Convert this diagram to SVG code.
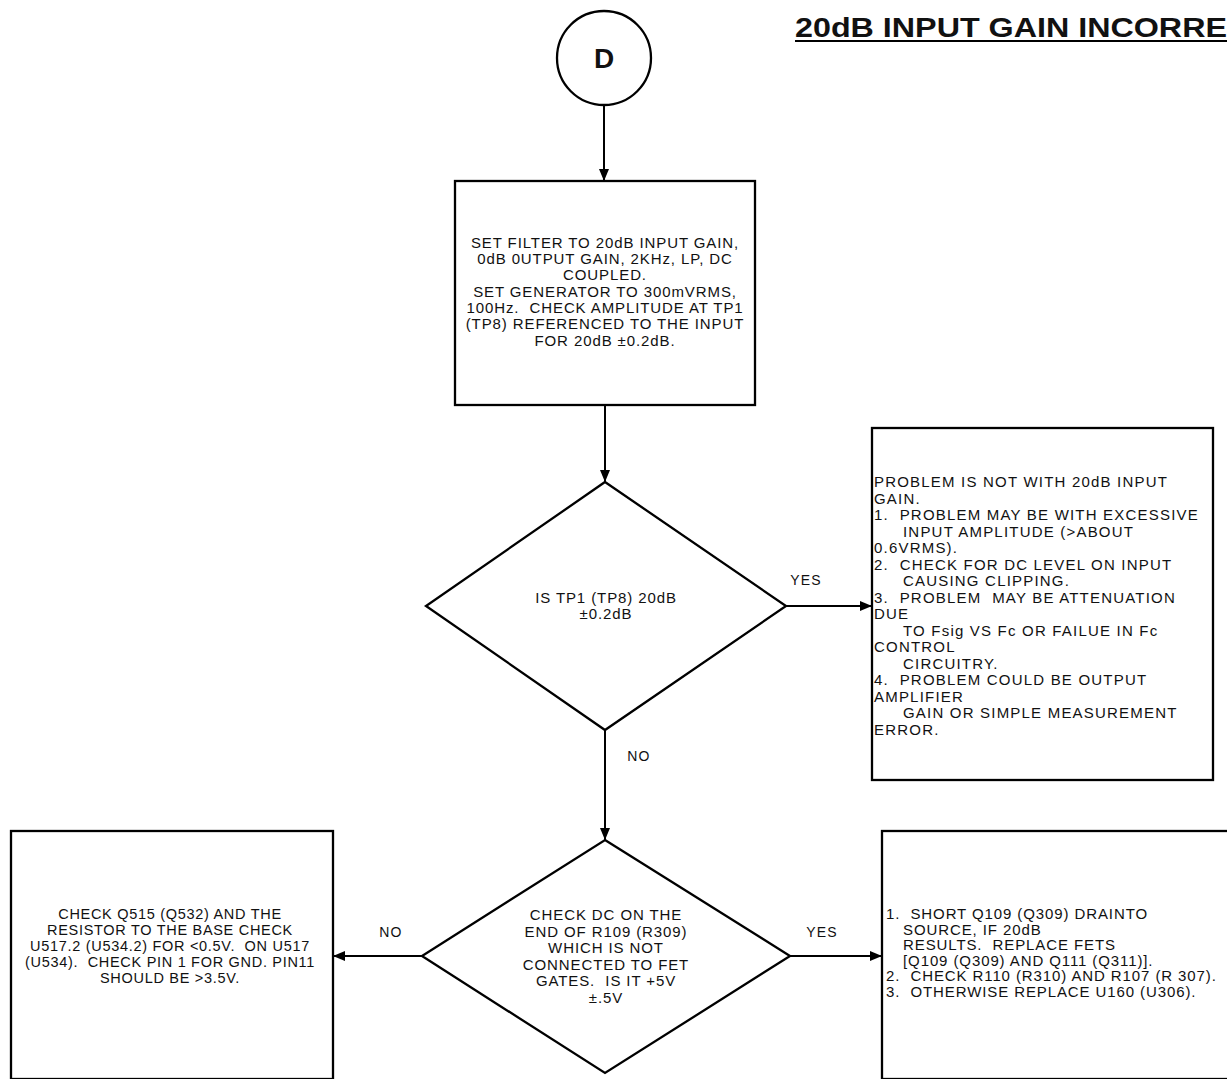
<svg xmlns="http://www.w3.org/2000/svg" width="1227" height="1079" viewBox="0 0 1227 1079">
  <style>
    .shape { fill: #ffffff; stroke: #000000; stroke-width: 2.3; }
    .edge { fill: none; stroke: #000000; stroke-width: 2; }
    .txt { font-family: "Liberation Sans", Arial, sans-serif; font-size: 15px; letter-spacing: 0.9px; fill: #111111; white-space: pre; }
    .small { font-size: 14.5px; letter-spacing: 0.7px; }
    .wide { letter-spacing: 1.2px; }
    .mid { text-anchor: middle; }
    .lbl { font-family: "Liberation Sans", Arial, sans-serif; font-size: 14px; letter-spacing: 1.2px; fill: #111111; text-anchor: middle; }
    .title { font-family: "Liberation Sans", Arial, sans-serif; font-weight: bold; font-size: 27px; fill: #111111; }
  </style>
  <defs>
    <marker id="arrow" viewBox="0 0 12 10" refX="12" refY="5" markerWidth="13" markerHeight="10" markerUnits="userSpaceOnUse" orient="auto">
      <path d="M0,0 L12,5 L0,10 Z" fill="#000000"/>
    </marker>
  </defs>
  <rect width="1227" height="1079" fill="#ffffff"/>

  <!-- heading -->
  <g id="title">
    <text class="title" x="795" y="37" textLength="432" lengthAdjust="spacingAndGlyphs">20dB INPUT GAIN INCORRE</text>
    <line x1="795" y1="41" x2="1227" y2="41" stroke="#000000" stroke-width="2"/>
  </g>

  <!-- connectors -->
  <g id="connectors">
    <line class="edge" x1="604" y1="105" x2="604" y2="181" marker-end="url(#arrow)"/>
    <line class="edge" x1="605" y1="405" x2="605" y2="482" marker-end="url(#arrow)"/>
    <line class="edge" x1="786" y1="606" x2="872" y2="606" marker-end="url(#arrow)"/>
    <line class="edge" x1="605" y1="730" x2="605" y2="840" marker-end="url(#arrow)"/>
    <line class="edge" x1="422" y1="956" x2="333" y2="956" marker-end="url(#arrow)"/>
    <line class="edge" x1="790" y1="956" x2="882" y2="956" marker-end="url(#arrow)"/>
    <text class="lbl" x="806" y="585">YES</text>
    <text class="lbl" x="639" y="761">NO</text>
    <text class="lbl" x="391" y="937">NO</text>
    <text class="lbl" x="822" y="937">YES</text>
  </g>

  <!-- connector D -->
  <g id="node-d">
    <circle class="shape" cx="604" cy="58" r="47"/>
    <text x="604" y="68" text-anchor="middle" font-family="Liberation Sans, Arial, sans-serif" font-weight="bold" font-size="28" fill="#111111">D</text>
  </g>

  <!-- setup step -->
  <g id="node-setup">
    <rect class="shape" x="455" y="181" width="300" height="224"/>
    <text class="txt mid"><tspan x="605" y="248">SET FILTER TO 20dB INPUT GAIN,</tspan><tspan
      x="605" y="264">0dB 0UTPUT GAIN, 2KHz, LP, DC</tspan><tspan
      x="605" y="280">COUPLED.</tspan><tspan
      x="605" y="297">SET GENERATOR TO 300mVRMS,</tspan><tspan
      x="605" y="313">100Hz.  CHECK AMPLITUDE AT TP1</tspan><tspan
      x="605" y="329">(TP8) REFERENCED TO THE INPUT</tspan><tspan
      x="605" y="346">FOR 20dB ±0.2dB.</tspan></text>
  </g>

  <!-- first decision -->
  <g id="node-check-tp1">
    <polygon class="shape" points="605,482 786,606 605,730 426,606"/>
    <text class="txt mid"><tspan x="606" y="603">IS TP1 (TP8) 20dB</tspan><tspan
      x="606" y="619">±0.2dB</tspan></text>
  </g>

  <!-- not the input gain -->
  <g id="node-not-input">
    <rect class="shape" x="872" y="428" width="341" height="352"/>
    <text class="txt wide"><tspan x="874" y="487">PROBLEM IS NOT WITH 20dB INPUT</tspan><tspan
      x="874" y="503.5">GAIN.</tspan><tspan
      x="874" y="520">1.  PROBLEM MAY BE WITH EXCESSIVE</tspan><tspan
      x="903" y="536.5">INPUT AMPLITUDE (&gt;ABOUT</tspan><tspan
      x="874" y="553">0.6VRMS).</tspan><tspan
      x="874" y="569.5">2.  CHECK FOR DC LEVEL ON INPUT</tspan><tspan
      x="903" y="586">CAUSING CLIPPING.</tspan><tspan
      x="874" y="602.5">3.  PROBLEM  MAY BE ATTENUATION</tspan><tspan
      x="874" y="619">DUE</tspan><tspan
      x="903" y="635.5">TO Fsig VS Fc OR FAILUE IN Fc</tspan><tspan
      x="874" y="652">CONTROL</tspan><tspan
      x="903" y="668.5">CIRCUITRY.</tspan><tspan
      x="874" y="685">4.  PROBLEM COULD BE OUTPUT</tspan><tspan
      x="874" y="701.5">AMPLIFIER</tspan><tspan
      x="903" y="718">GAIN OR SIMPLE MEASUREMENT</tspan><tspan
      x="874" y="734.5">ERROR.</tspan></text>
  </g>

  <!-- second decision -->
  <g id="node-check-r109">
    <polygon class="shape" points="605,840 790,956 605,1073 422,956"/>
    <text class="txt mid"><tspan x="606" y="920">CHECK DC ON THE</tspan><tspan
      x="606" y="936.5">END OF R109 (R309)</tspan><tspan
      x="606" y="953">WHICH IS NOT</tspan><tspan
      x="606" y="969.5">CONNECTED TO FET</tspan><tspan
      x="606" y="986">GATES.  IS IT +5V</tspan><tspan
      x="606" y="1002.5">±.5V</tspan></text>
  </g>

  <!-- transistor check -->
  <g id="node-check-q515">
    <rect class="shape" x="11" y="831" width="322" height="248"/>
    <text class="txt small mid"><tspan x="170" y="919">CHECK Q515 (Q532) AND THE</tspan><tspan
      x="170" y="935">RESISTOR TO THE BASE CHECK</tspan><tspan
      x="170" y="951">U517.2 (U534.2) FOR &lt;0.5V.  ON U517</tspan><tspan
      x="170" y="967">(U534).  CHECK PIN 1 FOR GND. PIN11</tspan><tspan
      x="170" y="983">SHOULD BE &gt;3.5V.</tspan></text>
  </g>

  <!-- FET replacement -->
  <g id="node-replace-fets">
    <rect class="shape" x="882" y="831" width="350" height="248"/>
    <text class="txt"><tspan x="886" y="919">1.  SHORT Q109 (Q309) DRAINTO</tspan><tspan
      x="903" y="934.5">SOURCE, IF 20dB</tspan><tspan
      x="903" y="950">RESULTS.  REPLACE FETS</tspan><tspan
      x="903" y="965.5">[Q109 (Q309) AND Q111 (Q311)].</tspan><tspan
      x="886" y="981">2.  CHECK R110 (R310) AND R107 (R 307).</tspan><tspan
      x="886" y="996.5">3.  OTHERWISE REPLACE U160 (U306).</tspan></text>
  </g>
</svg>
